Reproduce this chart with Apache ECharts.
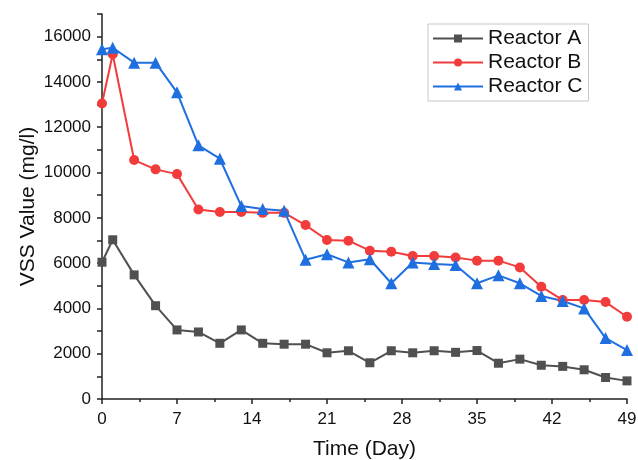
<!DOCTYPE html>
<html>
<head>
<meta charset="utf-8">
<script src="https://cdn.jsdelivr.net/npm/echarts@6/dist/echarts.min.js"></script>
<style>
  html, body { margin: 0; padding: 0; background: #fff; }
  #chart { width: 638px; height: 460px; }
</style>
</head>
<body>
<div id="chart"></div>
<script>
const days = [0, 1, 3, 5, 7, 9, 11, 13, 15, 17, 19, 21, 23, 25, 27, 29, 31, 33, 35, 37, 39, 41, 43, 45, 47, 49]
const reactorA = [6040, 7030, 5480, 4120, 3050, 2960, 2460, 3050, 2460, 2420, 2420, 2040, 2130, 1600, 2130, 2040, 2130, 2060, 2140, 1580, 1760, 1490, 1440, 1290, 950, 800]
const reactorB = [13050, 15220, 10550, 10140, 9930, 8370, 8260, 8260, 8220, 8220, 7680, 7020, 6990, 6550, 6500, 6310, 6310, 6250, 6110, 6110, 5810, 4960, 4370, 4370, 4280, 3630]
const reactorC = [15440, 15510, 14850, 14850, 13540, 11200, 10610, 8520, 8390, 8310, 6150, 6390, 6030, 6170, 5110, 6030, 5960, 5920, 5110, 5460, 5110, 4550, 4330, 4000, 2690, 2160]
const seriesNames = ['Reactor A', 'Reactor B', 'Reactor C']

const font = '"Liberation Sans", Arial, sans-serif'

function pairs(vals) {
  return days.map((d, i) => [d, vals[i]])
}

function lineSeries(name, vals, color, symbol, size) {
  return {
    name,
    type: 'line',
    data: pairs(vals),
    symbol,
    symbolSize: size,
    lineStyle: { color, width: 2 },
    itemStyle: { color },
  }
}

const chart = echarts.init(document.getElementById('chart'))
chart.setOption({
  backgroundColor: '#fff',
  animation: false,
  grid: { left: 102, right: 11, top: 14, bottom: 61, outerBoundsMode: 'none' },
  legend: {
    left: 428,
    top: 24,
    orient: 'vertical',
    data: seriesNames,
    itemWidth: 50,
    itemHeight: 10,
    itemGap: 3,
    padding: [4, 6, 4, 4],
    borderColor: '#c8c8c8',
    borderWidth: 1,
    textStyle: { fontFamily: font, fontSize: 21, color: '#111' },
  },
  xAxis: {
    type: 'value',
    min: 0,
    max: 49,
    interval: 7,
    name: 'Time (Day)',
    nameLocation: 'middle',
    nameGap: 40,
    nameTextStyle: { fontFamily: font, fontSize: 21, color: '#111' },
    axisLine: { lineStyle: { color: '#222', width: 1.5 } },
    axisTick: { length: 5, lineStyle: { color: '#222', width: 1.5 } },
    minorTick: { show: true, splitNumber: 2, length: 3, lineStyle: { color: '#222', width: 1.5 } },
    splitLine: { show: false },
    axisLabel: { fontFamily: font, fontSize: 17, color: '#111', margin: 12 },
  },
  yAxis: {
    type: 'value',
    min: 0,
    max: 17000,
    interval: 1000,
    name: 'VSS Value (mg/l)',
    nameLocation: 'middle',
    nameGap: 63,
    nameMoveOverlap: false,
    nameTextStyle: { fontFamily: font, fontSize: 21, color: '#111' },
    axisLine: { show: true, lineStyle: { color: '#222', width: 1.5 } },
    axisTick: { show: true, length: 5, lineStyle: { color: '#222', width: 1.5 } },
    splitLine: { show: false },
    axisLabel: {
      fontFamily: font,
      fontSize: 17,
      color: '#111',
      margin: 11,
      formatter: (v) => (v % 2000 === 0 ? String(v) : ''),
    },
  },
  series: [
    lineSeries(seriesNames[0], reactorA, '#505050', 'rect', 9),
    lineSeries(seriesNames[1], reactorB, '#f23c3c', 'circle', 10),
    lineSeries(seriesNames[2], reactorC, '#1f6fe0', 'triangle', 12),
  ],
})
</script>
</body>
</html>
